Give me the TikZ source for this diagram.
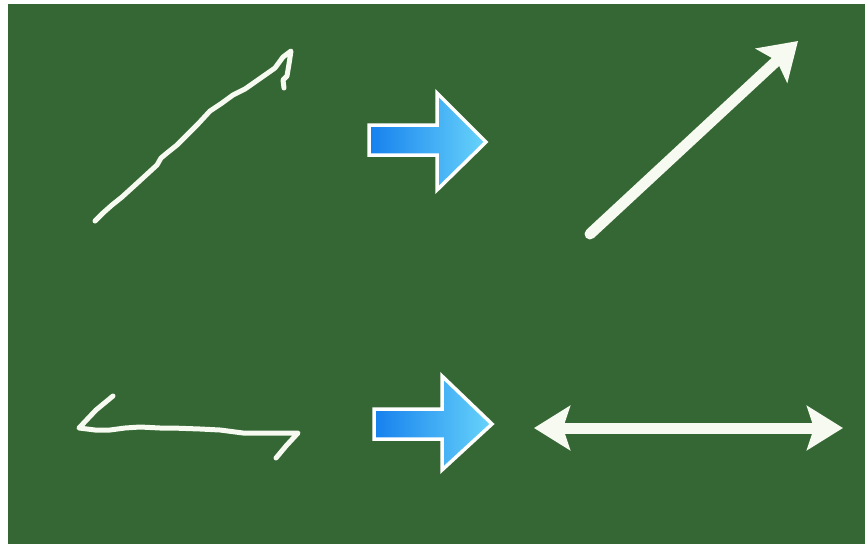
\documentclass[tikz,border=0pt]{standalone}
\usetikzlibrary{arrows.meta}
\definecolor{board}{RGB}{53,103,52}
\definecolor{chalk}{RGB}{246,250,240}
\definecolor{blueL}{RGB}{22,128,238}
\definecolor{blueR}{RGB}{104,212,250}
\tikzset{
  sketchline/.style={draw=chalk, line width=5pt, line cap=round, line join=round},
  bluearrow/.style={draw=white, line width=3.5pt, line join=miter, left color=blueL, right color=blueR},
  cleanarrow/.style={draw=chalk, line width=11pt, line cap=round,
    -{Stealth[length=36pt, width=46pt, inset=7pt]}},
  cleandouble/.style={draw=chalk, line width=11pt,
    {Stealth[length=36pt, width=44pt, inset=7pt]}-{Stealth[length=36pt, width=44pt, inset=7pt]}}
}
\begin{document}
\begin{tikzpicture}[x=1pt, y=-1pt]
\useasboundingbox (0,0) rectangle (865,544);
\fill[white] (0,0) rectangle (865,544);
\fill[board] (8,4) rectangle (865,544);

% hand-drawn arrow, top left
\draw[sketchline] (95,221) -- (103,213) -- (112,205) -- (122,197) -- (133,187) -- (145,176)
  -- (157,165) -- (161,158) -- (167,153) -- (177,145) -- (187,135) -- (198,124) -- (210,111)
  -- (222,103) -- (233,95) -- (245,89) -- (255,82) -- (265,75) -- (275,68) -- (283,57)
  -- (291,51) -- (289,64) -- (287,76) -- (283,80) -- (284,88);

% blue block arrow, top
\draw[bluearrow] (369,125) -- (437,125) -- (437,93) -- (486,142) -- (437,190) -- (437,155) -- (369,155) -- cycle;

% clean arrow, top right
\coordinate (a1) at (590,234);
\coordinate (a2) at (798,41);
\draw[cleanarrow] (a1) -- (a2);

% hand-drawn line, bottom left
\draw[sketchline] (113,396) -- (96,410) -- (79,428) -- (95,430) -- (110,430) -- (125,428)
  -- (140,427) -- (160,428) -- (172,428) -- (200,429) -- (220,430) -- (243,433) -- (270,433)
  -- (298,433) -- (286,446) -- (276,458);

% blue block arrow, bottom
\draw[bluearrow] (374,409) -- (442,409) -- (442,376) -- (492,424) -- (442,470) -- (442,439) -- (374,439) -- cycle;

% clean double arrow, bottom right
\coordinate (b1) at (534,428);
\coordinate (b2) at (843,428);
\draw[cleandouble] (b1) -- (b2);
\end{tikzpicture}
\end{document}
